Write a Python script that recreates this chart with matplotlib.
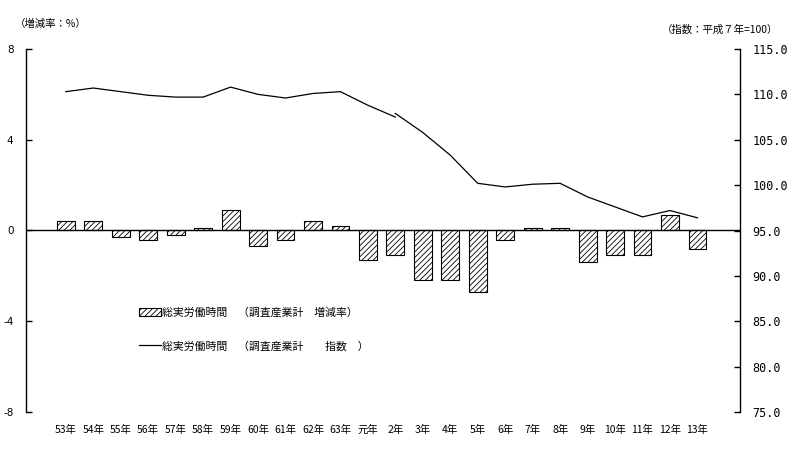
import matplotlib.pyplot as plt
import numpy as np

plt.rcParams['font.family'] = ['Noto Sans CJK JP', 'DejaVu Sans']
plt.rcParams['hatch.linewidth'] = 0.6

# categories (昭和53年 .. 平成13年)
years = ['53年', '54年', '55年', '56年', '57年', '58年', '59年', '60年', '61年',
         '62年', '63年', '元年', '2年', '3年', '4年', '5年', '6年', '7年', '8年',
         '9年', '10年', '11年', '12年', '13年']

# 増減率 (%)
rate = [0.4, 0.4, -0.3, -0.4, -0.2, 0.1, 0.9, -0.7, -0.4, 0.4, 0.2, -1.3,
        -1.1, -2.2, -2.2, -2.7, -0.4, 0.1, 0.1, -1.4, -1.1, -1.1, 0.7, -0.8]

# 指数 (平成7年=100), old basis up to 2年, new basis from 2年
index_old = [110.3, 110.7, 110.3, 109.9, 109.7, 109.7, 110.8, 110.0, 109.6,
             110.1, 110.3, 108.8, 107.5]
index_new = [107.9, 105.8, 103.3, 100.2, 99.8, 100.1, 100.2, 98.7, 97.6,
             96.5, 97.2, 96.4]

x = np.arange(len(years))
x_old = x[:len(index_old)]
x_new = x[len(index_old) - 1:]

fig = plt.figure(figsize=(8.01, 4.54), dpi=100)
ax = fig.add_axes([26 / 801, 1 - 412 / 454, 714 / 801, 363 / 454])
ax2 = ax.twinx()

bars = ax.bar(x, rate, width=0.65, color='white', edgecolor='black',
              linewidth=0.8, hatch='//////', zorder=2)
ax.axhline(0, color='black', linewidth=1.0, zorder=3)

ln, = ax2.plot(x_old, index_old, color='black', linewidth=0.9)
ax2.plot(x_new, index_new, color='black', linewidth=0.9)

ax.set_xlim(-1.45, 24.55)
ax.set_ylim(-8, 8)
ax.set_yticks([-8, -4, 0, 4, 8])
ax.set_yticklabels(['-8', '-4', '0', '4', '8'], fontsize=7.5,
                   family='DejaVu Sans')
ax2.set_ylim(75, 115)
ax2.set_yticks([75, 80, 85, 90, 95, 100, 105, 110, 115])
ax2.set_yticklabels(['%.1f' % v for v in [75, 80, 85, 90, 95, 100, 105, 110, 115]],
                    fontsize=8.5, family='DejaVu Sans Mono')

ax.set_xticks(x)
ax.set_xticklabels(years, fontsize=7.5)
ax.tick_params(axis='x', length=0, pad=9)
ax.tick_params(axis='y', direction='in', length=4, width=1, pad=9)
ax2.tick_params(axis='y', direction='in', length=4, width=1, pad=9)

for s in ['top', 'right', 'bottom']:
    ax.spines[s].set_visible(False)
for s in ['top', 'left', 'bottom']:
    ax2.spines[s].set_visible(False)
ax.spines['left'].set_linewidth(1)
ax2.spines['right'].set_linewidth(1)

fig.text(15 / 801, 1 - 24 / 454, '（増減率：%）', fontsize=7.5, va='center')
fig.text(778 / 801, 1 - 30 / 454, '（指数：平成７年=100）', fontsize=7.5,
         va='center', ha='right')

ax2.legend([bars, ln],
           ['総実労働時間　（調査産業計　増減率）', '総実労働時間　（調査産業計　　指数　）'],
           loc='upper left', bbox_to_anchor=(0.151, 0.303), frameon=False,
           fontsize=7.8, borderpad=0, labelspacing=2.1, handlelength=2.0,
           handleheight=0.7, handletextpad=0.1)

fig.savefig('out.png', dpi=100)
